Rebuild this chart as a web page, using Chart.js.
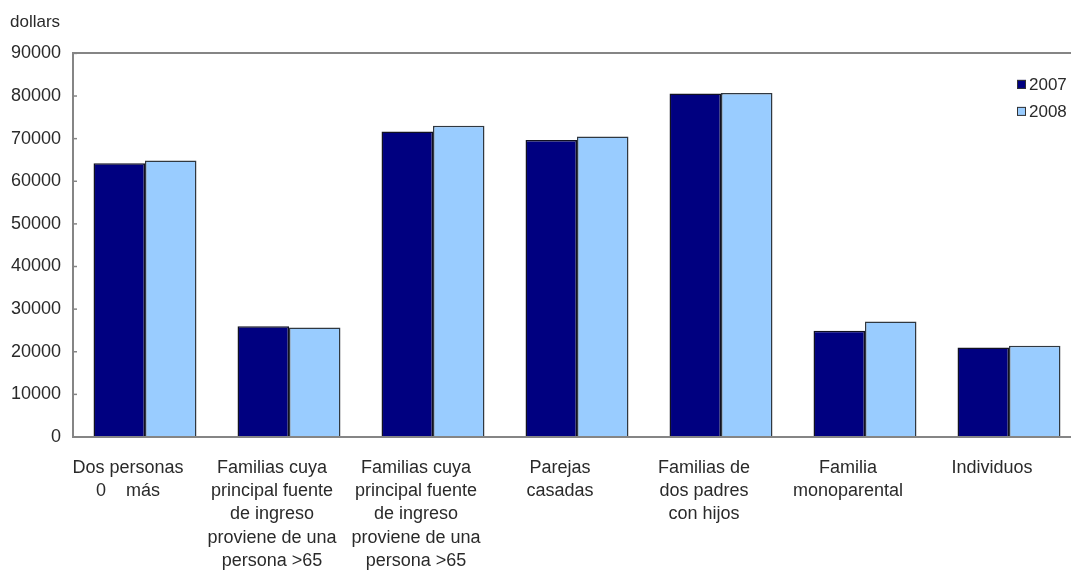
<!DOCTYPE html>
<html>
<head>
<meta charset="utf-8">
<script src="https://cdn.jsdelivr.net/npm/chart.js@4/dist/chart.umd.min.js"></script>
<style>
  html, body { margin: 0; padding: 0; background: #fff; overflow: hidden; }
  #wrap { width: 1090px; height: 570px; position: relative; }
</style>
</head>
<body>
<div id="wrap"><canvas id="incomeChart"></canvas></div>
<script>
const categories = [
  ['Dos personas', '0    más'],
  ['Familias cuya', 'principal fuente', 'de ingreso', 'proviene de una', 'persona >65'],
  ['Familias cuya', 'principal fuente', 'de ingreso', 'proviene de una', 'persona >65'],
  ['Parejas', 'casadas'],
  ['Familias de', 'dos padres', 'con hijos'],
  ['Familia', 'monoparental'],
  ['Individuos']
];
const seriesNames = ['2007', '2008'];
const values2007 = [64200, 26000, 71700, 69700, 80600, 24900, 21000];
const values2008 = [64900, 25700, 73000, 70500, 80700, 27100, 21400];
const yTicks = [0, 10000, 20000, 30000, 40000, 50000, 60000, 70000, 80000, 90000];

const FONT = '"Liberation Sans", Arial, sans-serif';
const TEXT = '#2a2a2a';
const AXIS = '#858585';

// small legend drawn inside the plot, top right
const insideLegend = {
  id: 'insideLegend',
  afterDraw(chart) {
    const { ctx, chartArea } = chart;
    ctx.save();
    ctx.font = '17px ' + FONT;
    ctx.textBaseline = 'middle';
    chart.data.datasets.forEach((ds, i) => {
      const x = chartArea.right - 64;
      const y = chartArea.top + 31 + i * 27;
      ctx.fillStyle = ds.backgroundColor;
      ctx.fillRect(x, y - 4.5, 9, 9);
      ctx.strokeStyle = '#333';
      ctx.lineWidth = 1;
      ctx.strokeRect(x + 0.5, y - 4, 8, 8);
      ctx.fillStyle = TEXT;
      ctx.fillText(ds.label, x + 12, y + 1);
    });
    ctx.restore();
  }
};

new Chart(document.getElementById('incomeChart'), {
  type: 'bar',
  data: {
    labels: categories,
    datasets: [
      {
        label: seriesNames[0],
        data: values2007,
        backgroundColor: '#000080',
        borderColor: '#111122',
        borderWidth: 1.5
      },
      {
        label: seriesNames[1],
        data: values2008,
        backgroundColor: '#99ccff',
        borderColor: '#303840',
        borderWidth: 1.5
      }
    ]
  },
  options: {
    responsive: true,
    maintainAspectRatio: false,
    animation: false,
    categoryPercentage: 0.715,
    barPercentage: 1.0,
    layout: { padding: { left: 10, right: 9, top: 0, bottom: 0 } },
    plugins: {
      legend: { display: false },
      tooltip: { enabled: false },
      title: {
        display: true,
        text: 'dollars',
        align: 'start',
        color: TEXT,
        font: { family: FONT, size: 17, weight: 'normal' },
        padding: { top: 12, bottom: 21 }
      }
    },
    scales: {
      x: {
        grid: { display: false, drawTicks: false },
        border: { display: true, color: AXIS, width: 2 },
        ticks: {
          color: TEXT,
          font: { family: FONT, size: 18, lineHeight: 1.3 },
          padding: 19,
          labelOffset: -17,
          maxRotation: 0,
          autoSkip: false
        },
        afterFit(scale) { scale.height = 133; }
      },
      y: {
        min: 0,
        max: 90000,
        afterBuildTicks(scale) { scale.ticks = yTicks.map(v => ({ value: v })); },
        grid: {
          drawOnChartArea: true,
          color: ctx => ctx.tick && ctx.tick.value === 90000 ? AXIS : 'rgba(0,0,0,0)',
          lineWidth: 2,
          drawTicks: false
        },
        border: { display: true, color: AXIS, width: 2 },
        ticks: {
          color: TEXT,
          font: { family: FONT, size: 18 },
          padding: 12,
          callback: v => String(v)
        },
        afterFit(scale) { scale.width = 63; }
      }
    }
  },
  plugins: [insideLegend, {
    // short tick marks pointing into the plot
    id: 'innerTicks',
    afterDraw(chart) {
      const { ctx, chartArea, scales } = chart;
      ctx.save();
      ctx.strokeStyle = AXIS;
      ctx.lineWidth = 1.5;
      scales.y.ticks.forEach((t, i) => {
        const y = scales.y.getPixelForTick(i);
        ctx.beginPath();
        ctx.moveTo(chartArea.left, y);
        ctx.lineTo(chartArea.left + 4, y);
        ctx.stroke();
      });
      ctx.restore();
    }
  }]
});
</script>
</body>
</html>
